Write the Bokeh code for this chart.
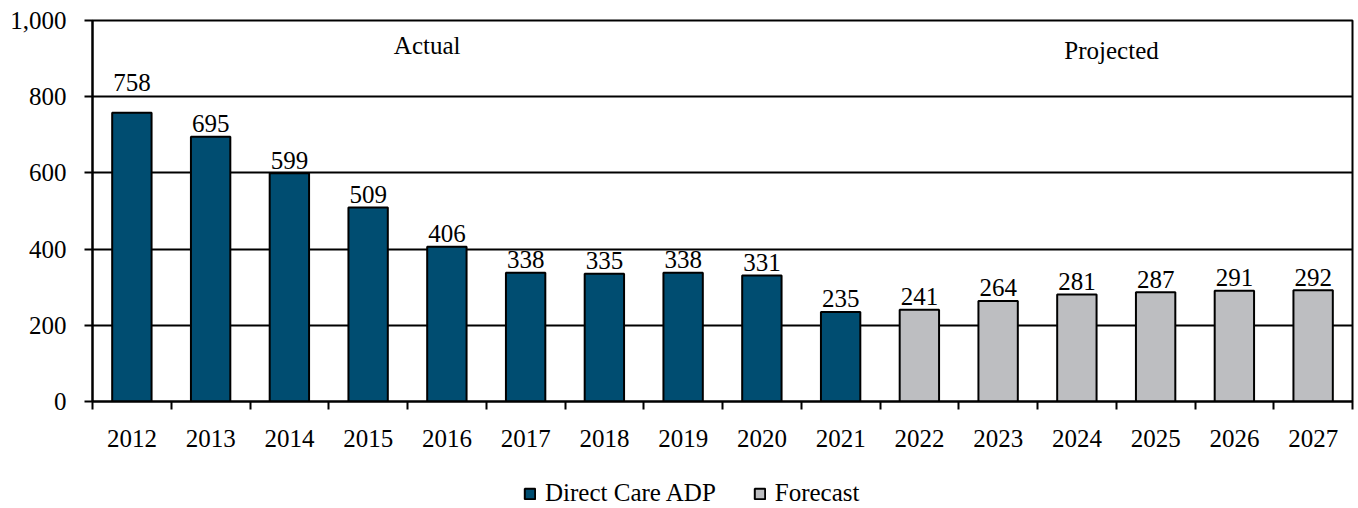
from bokeh.plotting import figure
from bokeh.layouts import column
from bokeh.models import Range1d, FixedTicker, NumeralTickFormatter, Legend, LegendItem, Label, ColumnDataSource
from bokeh.core.properties import value
from bokeh.embed import file_html
from bokeh.resources import INLINE

# ---- data ----
years = ["2012", "2013", "2014", "2015", "2016", "2017", "2018", "2019",
         "2020", "2021", "2022", "2023", "2024", "2025", "2026", "2027"]
actual_values = [758, 695, 599, 509, 406, 338, 335, 338, 331, 235]
forecast_values = [241, 264, 281, 287, 291, 292]
y_ticks = [0, 200, 400, 600, 800, 1000]
series_names = ["Direct Care ADP", "Forecast"]
period_labels = ["Actual", "Projected"]

# ---- style ----
BLUE = "#004D71"
GREY = "#BDBEC1"
FONT = "Liberation Serif"
FS = "25px"
label_lift = [30, 13, 13, 13, 13, 13, 13, 13, 13, 13, 13, 13, 13, 13, 13, 13]

n = len(years)
centers = [i + 0.5 for i in range(n)]
na = len(actual_values)
xa = centers[:na]
xf = centers[na:]
all_values = actual_values + forecast_values

p = figure(frame_width=1260, frame_height=381, x_range=Range1d(0, n), y_range=Range1d(0, 1000),
           output_backend="svg", toolbar_location=None,
           min_border_left=92, min_border_right=4, min_border_top=20, min_border_bottom=66)
p.background_fill_color = "white"
p.border_fill_color = "white"
p.outline_line_color = "black"
p.outline_line_width = 2

p.xgrid.visible = False
p.ygrid.grid_line_color = "black"
p.ygrid.grid_line_width = 2
p.ygrid.ticker = FixedTicker(ticks=y_ticks)

# y axis
ya = p.yaxis[0]
ya.ticker = FixedTicker(ticks=y_ticks)
ya.formatter = NumeralTickFormatter(format="0,0")
ya.axis_line_color = "black"
ya.axis_line_width = 2
ya.major_tick_line_color = "black"
ya.major_tick_line_width = 2
ya.major_tick_out = 8
ya.major_tick_in = 0
ya.minor_tick_line_color = None
ya.major_label_text_font = FONT
ya.major_label_text_font_size = FS
ya.major_label_text_color = "black"
ya.major_label_standoff = 18

# x axis
xax = p.xaxis[0]
xax.ticker = FixedTicker(ticks=centers, minor_ticks=list(range(n + 1)))
xax.major_label_overrides = {c: y for c, y in zip(centers, years)}
xax.axis_line_color = "black"
xax.axis_line_width = 2
xax.major_tick_line_color = None
xax.major_tick_out = 0
xax.major_tick_in = 0
xax.minor_tick_line_color = "black"
xax.minor_tick_line_width = 2
xax.minor_tick_out = 8
xax.minor_tick_in = 0
xax.major_label_text_font = FONT
xax.major_label_text_font_size = FS
xax.major_label_text_color = "black"
xax.major_label_standoff = 20

# bars
r1 = p.vbar(x=xa, top=actual_values, width=0.5, bottom=0,
            fill_color=BLUE, line_color="black", line_width=2)
r2 = p.vbar(x=xf, top=forecast_values, width=0.5, bottom=0,
            fill_color=GREY, line_color="black", line_width=2)

# value labels
src = ColumnDataSource(dict(x=centers, y=all_values, t=[str(v) for v in all_values],
                            off=[-v for v in label_lift]))
p.text(x="x", y="y", text="t", source=src, y_offset="off",
       text_align="center", text_baseline="alphabetic",
       text_font=value(FONT), text_font_size=FS, text_color="black")

# period labels
p.add_layout(Label(x=4.25, y=934, text=period_labels[0], text_align="center",
                   text_baseline="alphabetic", text_font=FONT, text_font_size=FS,
                   text_color="black"))
p.add_layout(Label(x=12.94, y=922, text=period_labels[1], text_align="center",
                   text_baseline="alphabetic", text_font=FONT, text_font_size=FS,
                   text_color="black"))

# legend strip below the chart (same series, hidden, only used for the legend)
p2 = figure(width=1356, height=41, x_range=Range1d(0, n), y_range=Range1d(0, 1000),
            output_backend="svg", toolbar_location=None, min_border=0)
p2.axis.visible = False
p2.grid.visible = False
p2.outline_line_color = None
p2.background_fill_color = "white"
p2.border_fill_color = "white"
l1 = p2.vbar(x=xa, top=actual_values, width=0.5, bottom=0,
             fill_color=BLUE, line_color="black", line_width=2, visible=False)
l2 = p2.vbar(x=xf, top=forecast_values, width=0.5, bottom=0,
             fill_color=GREY, line_color="black", line_width=2, visible=False)

legend = Legend(items=[LegendItem(label=series_names[0], renderers=[l1]),
                       LegendItem(label=series_names[1], renderers=[l2])],
                orientation="horizontal", location=(431, 1),
                border_line_color=None, background_fill_alpha=0,
                inactive_fill_alpha=0,
                label_text_font=FONT, label_text_font_size=FS, label_text_color="black",
                glyph_width=13, glyph_height=13, spacing=37, label_standoff=9,
                label_height=26, padding=0, margin=0)
p2.add_layout(legend, "center")

open("out.html", "w").write(file_html(column(p, p2, spacing=0), INLINE))
